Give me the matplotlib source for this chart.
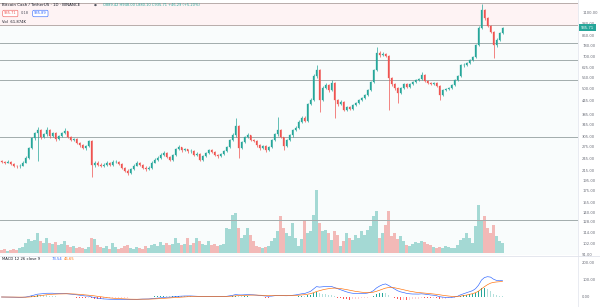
import numpy as np
import pandas as pd
import matplotlib
matplotlib.use("Agg")
import matplotlib.pyplot as plt
from matplotlib.lines import Line2D
from matplotlib.ticker import FixedLocator, FuncFormatter, NullLocator

# ---------------- data ----------------
first_open = 238
closes = [
    236, 234, 236, 231, 227, 225, 227, 234, 246, 271,
    301, 317, 327, 304, 313, 327, 307, 317, 298, 307,
    317, 323, 304, 295, 298, 286, 280, 271, 277, 292,
    229, 234, 229, 227, 229, 234, 229, 236, 236, 231,
    222, 215, 211, 218, 227, 234, 229, 222, 218, 222,
    234, 241, 246, 253, 258, 248, 241, 253, 268, 274,
    266, 268, 263, 263, 253, 256, 241, 251, 258, 266,
    261, 253, 251, 256, 263, 274, 295, 310, 340, 271,
    289, 304, 310, 295, 292, 280, 271, 277, 266, 274,
    295, 313, 327, 304, 277, 295, 310, 327, 334, 356,
    371, 360, 428, 446, 570, 606, 446, 504, 519, 494,
    530, 446, 428, 437, 403, 415, 407, 424, 433, 446,
    455, 469, 494, 536, 606, 722, 707, 715, 700, 557,
    525, 504, 479, 504, 525, 509, 525, 536, 547, 553,
    576, 541, 530, 525, 530, 514, 469, 494, 499, 504,
    519, 547, 570, 638, 638, 651, 671, 693, 784, 935,
    1123, 1030, 955, 898, 784, 826, 889, 935.71,
]
highs = [
    241, 239, 240, 237, 233, 229, 230, 237, 250, 275,
    306, 322, 336, 330, 318, 336, 330, 321, 319, 311,
    321, 333, 325, 307, 302, 300, 289, 282, 280, 296,
    295, 238, 237, 232, 232, 238, 236, 240, 241, 238,
    233, 224, 218, 221, 230, 237, 236, 231, 225, 226,
    237, 245, 250, 257, 264, 260, 250, 256, 271, 280,
    276, 272, 270, 268, 265, 260, 258, 254, 262, 270,
    268, 263, 256, 259, 266, 278, 299, 316, 371, 345,
    293, 308, 316, 312, 299, 294, 283, 281, 279, 277,
    298, 317, 375, 330, 306, 298, 314, 331, 340, 361,
    378, 376, 434, 454, 580, 638, 612, 512, 530, 524,
    547, 535, 452, 444, 440, 420, 418, 429, 438, 451,
    460, 474, 500, 543, 614, 768, 735, 728, 722, 706,
    565, 530, 509, 509, 531, 530, 531, 542, 553, 560,
    594, 580, 546, 535, 536, 534, 518, 499, 505, 510,
    525, 553, 577, 646, 650, 660, 680, 702, 795, 950,
    1200, 1140, 1045, 965, 905, 840, 900, 948,
]
lows = [
    233, 231, 232, 228, 224, 221, 222, 225, 232, 244,
    268, 296, 238, 299, 300, 309, 302, 304, 293, 295,
    304, 313, 300, 291, 291, 283, 276, 268, 267, 275,
    202, 224, 226, 224, 224, 227, 226, 227, 232, 228,
    219, 212, 207, 209, 216, 225, 226, 219, 214, 216,
    220, 232, 238, 243, 250, 245, 237, 239, 251, 265,
    262, 263, 259, 259, 250, 250, 237, 238, 248, 255,
    257, 250, 246, 248, 253, 260, 271, 292, 306, 246,
    268, 286, 300, 291, 288, 276, 267, 268, 262, 263,
    271, 292, 309, 300, 266, 274, 292, 306, 323, 330,
    351, 355, 356, 422, 440, 560, 395, 440, 497, 486,
    489, 371, 420, 423, 397, 398, 401, 403, 419, 429,
    441, 450, 464, 489, 530, 600, 695, 700, 690, 403,
    515, 495, 433, 474, 499, 503, 504, 520, 530, 541,
    548, 535, 524, 519, 520, 508, 446, 464, 489, 494,
    499, 514, 541, 564, 625, 630, 645, 665, 687, 778,
    925, 1010, 940, 885, 685, 770, 815, 880,
]
volumes_k = [
    18, 24, 12, 18, 24, 18, 30, 36, 60, 84,
    72, 78, 120, 72, 60, 90, 60, 54, 66, 48,
    54, 72, 48, 36, 42, 30, 36, 30, 24, 36,
    90, 84, 48, 36, 30, 42, 24, 60, 36, 24,
    30, 42, 48, 30, 24, 36, 30, 24, 42, 30,
    48, 54, 42, 66, 48, 60, 48, 54, 90, 60,
    48, 54, 90, 48, 60, 90, 72, 54, 48, 72,
    48, 54, 42, 48, 54, 150, 144, 228, 240, 150,
    90, 108, 150, 108, 72, 42, 36, 30, 36, 42,
    72, 90, 132, 222, 150, 120, 102, 180, 90, 42,
    84, 198, 120, 132, 228, 378, 180, 132, 138, 120,
    78, 132, 108, 42, 72, 120, 90, 78, 108, 90,
    132, 108, 138, 162, 222, 252, 90, 120, 168, 252,
    102, 120, 84, 102, 72, 48, 42, 54, 66, 60,
    72, 66, 54, 48, 36, 30, 36, 30, 42, 36,
    30, 30, 48, 78, 90, 120, 90, 60, 162, 288,
    198, 222, 150, 120, 168, 102, 72, 61.874,
]
level_lines = [802, 672, 547, 305, 130]
zone_lines = [1210, 962]
stop_zone = (962, 1210)
target_zone = (80, 962)
price_ticks = [1100, 980, 860, 780, 700, 625, 560, 500, 445, 385, 345, 305,
               275, 245, 215, 195, 175, 155, 140, 128, 114, 102, 91]
macd_ticks = [200, 100, 0]
last_price = 935.71

assert len(closes) == len(highs) == len(lows) == len(volumes_k)

# ---------------- style ----------------
UP, DN = "#26a69a", "#ef5350"
W, H = 600, 307
PLOT_R = 578  # right edge of plotting area (px)


def rect(x0, y0, x1, y1):
    return [x0 / W, 1 - y1 / H, (x1 - x0) / W, (y1 - y0) / H]


fig = plt.figure(figsize=(W / 100, H / 100), dpi=100)
fig.patch.set_facecolor("white")

n = len(closes)
x = np.arange(n)
c = np.array(closes, dtype=float)
o = np.array([first_open] + closes[:-1], dtype=float)
hi = np.array(highs, dtype=float)
lo = np.array(lows, dtype=float)
up = c >= o
cols = np.where(up, UP, DN)
vcols = np.where(up, "#26a69a66", "#ef535066")

xlim = (-0.5, PLOT_R / 3 - 0.5)

# ---- main pane ----
ax = fig.add_axes(rect(0, 0, PLOT_R, 255))
axv = ax.twinx()
ax.set_zorder(axv.get_zorder() + 1)
ax.patch.set_visible(False)
axv.patch.set_facecolor("white")

axv.bar(x, volumes_k, width=0.7, color=vcols, lw=0)
axv.set_ylim(-12, 1518)
axv.set_yticks([])

ax.set_yscale("log")
ax.set_ylim(90.5, 1245)
ax.set_xlim(*xlim)
ax.axhspan(*stop_zone, color="#f23645", alpha=0.055, lw=0, zorder=0)
ax.axhspan(*target_zone, color="#089981", alpha=0.025, lw=0, zorder=0)
for v in zone_lines:
    ax.axhline(v, color="#b8acaa", lw=0.7, zorder=1)
for v in level_lines:
    ax.axhline(v, color="#a2acac", lw=0.7, zorder=1)

ax.vlines(x, lo, hi, colors=cols, lw=0.5, zorder=3)
ax.bar(x, np.abs(c - o), bottom=np.minimum(o, c), width=0.55, color=cols,
       edgecolor=cols, lw=0.2, zorder=4)

ax.yaxis.tick_right()
ax.yaxis.set_major_locator(FixedLocator(price_ticks))
ax.yaxis.set_major_formatter(FuncFormatter(lambda v, p: f"{v:.2f}"))
ax.yaxis.set_minor_locator(NullLocator())
ax.tick_params(axis="y", which="both", length=0, pad=3, labelsize=2.7,
               labelcolor="#6a6d78", right=True, left=False,
               labelright=True, labelleft=False)
ax.set_xticks([])
axv.set_xticks([])
for a in (ax, axv):
    for s in a.spines.values():
        s.set_visible(False)

ax.annotate(f"{last_price:.2f}", xy=(1.0, last_price),
            xycoords=("axes fraction", "data"), xytext=(2.2, 0),
            textcoords="offset points", ha="left", va="center",
            fontsize=2.7, color="white",
            bbox=dict(boxstyle="square,pad=0.45", fc=UP, ec="none"),
            annotation_clip=False)

# ---- MACD pane ----
axm = fig.add_axes(rect(0, 256, PLOT_R, 307))
cs = pd.Series(c)
macd = cs.ewm(span=12, adjust=False).mean() - cs.ewm(span=26, adjust=False).mean()
signal = macd.ewm(span=9, adjust=False).mean()
hist = (macd - signal).to_numpy()
hcols = []
for i, hv in enumerate(hist):
    prev = hist[i - 1] if i else 0.0
    if hv >= 0:
        hcols.append("#26a69a" if hv >= prev else "#b2dfdb")
    else:
        hcols.append("#ff5252" if hv < prev else "#ffcdd2")
axm.bar(x, hist, width=0.55, color=hcols, lw=0)
axm.plot(x, macd, color="#2962ff", lw=0.45)
axm.plot(x, signal, color="#ff6d00", lw=0.45)
axm.set_xlim(*xlim)
axm.set_ylim(-58.8, 241)
axm.yaxis.tick_right()
axm.yaxis.set_major_locator(FixedLocator(macd_ticks))
axm.yaxis.set_major_formatter(FuncFormatter(lambda v, p: f"{v:.2f}"))
axm.tick_params(axis="y", length=0, pad=3, labelsize=2.7, labelcolor="#6a6d78")
axm.set_xticks([])
for s in axm.spines.values():
    s.set_visible(False)

# separators
fig.add_artist(Line2D([PLOT_R / W] * 2, [0, 1], color="#e0e3eb", lw=0.5))
fig.add_artist(Line2D([0, 1], [1 - 255.5 / H] * 2, color="#e0e3eb", lw=0.6))


def ftxt(px, py, s, **kw):
    kw.setdefault("va", "center")
    return fig.text(px / W, 1 - py / H, s, **kw)


# header legend
ftxt(2, 4.5, "Bitcoin Cash / TetherUS · 1D · BINANCE", fontsize=2.9, color="#131722")
ftxt(94, 4.5, "●", fontsize=2.4, color="#50535e")
ftxt(103, 4.5, "O889.42 H948.00 L880.10 C935.71 +46.29 (+5.20%)",
     fontsize=2.6, color=UP)
ftxt(4, 13.5, "935.71", fontsize=2.6, color=DN,
     bbox=dict(boxstyle="round,pad=0.35", fc="white", ec=DN, lw=0.4))
ftxt(21, 13.5, "0.18", fontsize=2.6, color="#50535e")
ftxt(34, 13.5, "935.89", fontsize=2.6, color="#2962ff",
     bbox=dict(boxstyle="round,pad=0.35", fc="white", ec="#2962ff", lw=0.4))
ftxt(2, 22, "Vol  61.874K", fontsize=2.7, color="#131722")

# MACD legend
ftxt(2, 259, "MACD 12 26 close 9", fontsize=2.7, color="#131722")
ftxt(52, 259, "73.54", fontsize=2.7, color="#2962ff")
ftxt(64, 259, "46.65", fontsize=2.7, color="#ff6d00")

fig.savefig("out.png", dpi=100, facecolor="white")
